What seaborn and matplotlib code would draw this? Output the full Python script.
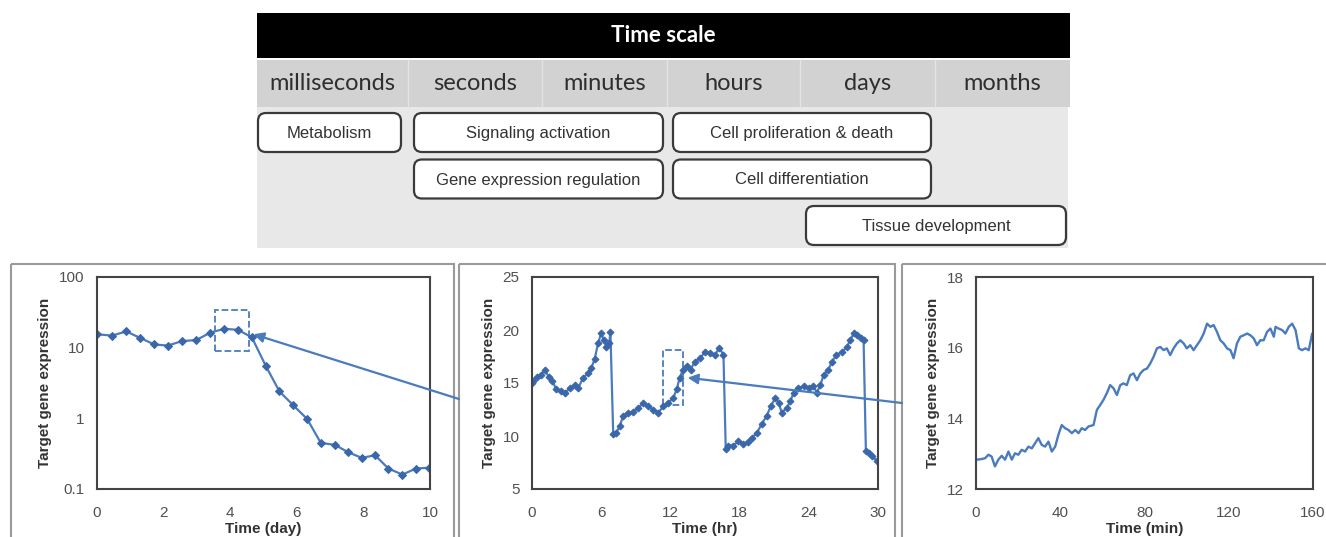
import numpy as np
import matplotlib
matplotlib.use("Agg")
import matplotlib.pyplot as plt
import seaborn as sns
from matplotlib.patches import Rectangle, FancyBboxPatch

# time scale table
time_units = ["milliseconds", "seconds", "minutes", "hours", "days", "months"]
processes = ["Metabolism", "Signaling activation", "Cell proliferation & death",
             "Gene expression regulation", "Cell differentiation", "Tissue development"]
proc_start = [0, 1, 3, 1, 3, 4]   # first column covered
proc_end = [0, 2, 4, 2, 4, 5]     # last column covered
proc_row = [0, 0, 0, 1, 1, 2]

# panel 1: days, log scale
day_x = [0, 0.45, 0.88, 1.3, 1.72, 2.13, 2.55, 2.98, 3.4, 3.82, 4.23, 4.65, 5.07,
         5.48, 5.9, 6.31, 6.72, 7.15, 7.55, 7.95, 8.35, 8.75, 9.17, 9.58, 9.98]
day_y = [15.5, 14.8, 17, 13.7, 11.1, 10.7, 12.4, 12.8, 16.3, 18.5, 17.9, 14.0, 5.5,
         2.4, 1.52, 0.98, 0.45, 0.42, 0.33, 0.276, 0.30, 0.195, 0.16, 0.195, 0.2]

# panel 2: hours
hr_x = [0, 0.1, 0.43, 0.8, 1.1, 1.45, 1.77, 2.1, 2.55, 2.9, 3.27, 3.7, 4.0, 4.43, 4.87,
        5.15, 5.44, 5.73, 6.0, 6.2, 6.45, 6.7, 6.8, 7.04, 7.3, 7.6, 7.9, 8.3, 8.8, 9.2,
        9.65, 10.1, 10.5, 10.95, 11.4, 11.8, 12.25, 12.55, 12.8, 13.1, 13.4, 13.75, 14.1,
        14.6, 15.0, 15.4, 15.85, 16.25, 16.6, 16.8, 17.0, 17.45, 17.9, 18.3, 18.7, 19.05,
        19.5, 19.9, 20.35, 20.7, 21.1, 21.4, 21.65, 22.1, 22.4, 22.7, 23.1, 23.55, 24.0,
        24.4, 24.7, 25.0, 25.3, 25.7, 26.0, 26.4, 26.9, 27.3, 27.6, 27.9, 28.2, 28.5,
        28.75, 28.95, 29.2, 29.5, 29.9]
hr_y = [15.0, 15.2, 15.6, 15.8, 16.2, 15.6, 15.2, 14.4, 14.2, 14.1, 14.5, 14.8, 14.5,
        15.5, 15.9, 16.4, 17.3, 18.75, 19.7, 19.1, 18.4, 18.75, 19.85, 10.2, 10.3, 10.9,
        11.9, 12.2, 12.3, 12.65, 13.1, 12.8, 12.5, 12.2, 12.8, 13.1, 13.6, 14.4, 15.5,
        16.25, 16.6, 16.25, 17.0, 17.35, 17.95, 17.8, 17.65, 18.3, 17.65, 8.75, 9.1, 9.1,
        9.5, 9.2, 9.4, 9.8, 10.3, 11.1, 11.9, 12.8, 13.6, 13.1, 12.2, 12.65, 13.3, 14.1,
        14.5, 14.7, 14.5, 14.7, 14.1, 14.8, 15.8, 16.25, 17.0, 17.65, 17.95, 18.4, 19.05,
        19.7, 19.5, 19.2, 19.05, 8.6, 8.4, 8.1, 7.65]

# panel 3: minutes
min_x = [0, 1.9, 4.3, 5.9, 7.4, 9.0, 10.6, 12.2, 13.8, 15.4, 17.0, 18.5, 20.1, 21.7,
         23.3, 24.9, 26.5, 28.1, 29.6, 31.2, 32.8, 34.4, 36.0, 37.6, 39.1, 40.7, 42.3,
         43.9, 45.5, 47.1, 48.7, 50.2, 51.8, 53.4, 55.8, 57.4, 59.0, 60.5, 62.1, 63.7,
         65.3, 66.9, 68.5, 70.0, 71.6, 73.2, 74.8, 76.4, 78.0, 79.6, 81.2, 82.7, 84.3,
         85.9, 87.5, 89.1, 90.6, 92.2, 93.8, 95.4, 97.0, 98.6, 100.1, 101.7, 103.3, 104.9,
         106.5, 108.1, 109.7, 111.3, 112.8, 114.4, 116.0, 117.6, 119.2, 120.8, 122.3,
         123.9, 125.5, 127.1, 128.7, 130.3, 131.9, 133.4, 135.0, 136.6, 138.2, 139.8,
         141.4, 142.2, 143.7, 145.3, 146.9, 148.5, 150.1, 151.7, 153.3, 154.8, 156.4,
         158.0, 159.6]
min_y = [12.83, 12.84, 12.87, 12.97, 12.92, 12.64, 12.83, 12.94, 12.83, 13.06, 12.83,
         13.01, 12.97, 13.11, 13.06, 13.2, 13.15, 13.3, 13.44, 13.25, 13.2, 13.34, 13.06,
         13.2, 13.53, 13.81, 13.72, 13.67, 13.58, 13.67, 13.58, 13.72, 13.67, 13.77,
         13.81, 14.24, 14.38, 14.52, 14.71, 14.94, 14.85, 14.66, 14.94, 14.99, 14.94,
         15.22, 15.27, 15.08, 15.27, 15.37, 15.41, 15.55, 15.74, 15.98, 16.02, 15.93,
         15.98, 15.79, 15.98, 16.12, 16.21, 16.12, 15.98, 16.07, 15.93, 16.07, 16.21,
         16.4, 16.68, 16.59, 16.64, 16.45, 16.21, 16.12, 15.98, 15.93, 15.7, 16.12, 16.31,
         16.35, 16.4, 16.35, 16.26, 16.07, 16.21, 16.21, 16.45, 16.54, 16.31, 16.59,
         16.54, 16.5, 16.4, 16.59, 16.68, 16.5, 15.98, 15.93, 15.98, 15.93, 16.4]

# zoom boxes (x0, x1, y0, y1) and arrow targets
box1 = [3.55, 4.57, 9, 34]
box2 = [11.4, 13.1, 12.9, 18.1]
arrow1_target = (4.7, 15.5)
arrow2_target = (13.5, 15.5)

sns.set_style("white")
plt.rcParams["font.family"] = ["Liberation Sans", "DejaVu Sans"]

blue = "#4a7bbd"
dark = "#3a66aa"
W, H = 1326, 537
fig = plt.figure(figsize=(W / 100, H / 100), dpi=100)

def px_axes(x0, x1, y0, y1):
    return fig.add_axes([x0 / W, 1 - y1 / H, (x1 - x0) / W, (y1 - y0) / H])

ax1 = px_axes(97, 430, 277, 489)
ax2 = px_axes(532, 878, 277, 489)
ax3 = px_axes(976, 1313, 277, 489)

sns.lineplot(x=day_x, y=day_y, ax=ax1, color=blue, lw=1.6, marker="D",
             markersize=4, markerfacecolor=dark, markeredgecolor=dark)
sns.lineplot(x=hr_x, y=hr_y, ax=ax2, color=blue, lw=1.6, marker="D",
             markersize=3.5, markerfacecolor=dark, markeredgecolor=dark)
sns.lineplot(x=min_x, y=min_y, ax=ax3, color=blue, lw=1.7)

ax1.set_yscale("log")
ax1.set_xlim(0, 10)
ax1.set_ylim(0.1, 100)
ax1.set_xticks([0, 2, 4, 6, 8, 10])
ax1.set_yticks([0.1, 1, 10, 100])
ax1.set_yticklabels(["0.1", "1", "10", "100"])
ax1.minorticks_off()
ax1.set_xlabel("Time (day)")

ax2.set_xlim(0, 30)
ax2.set_ylim(5, 25)
ax2.set_xticks([0, 6, 12, 18, 24, 30])
ax2.set_yticks([5, 10, 15, 20, 25])
ax2.set_xlabel("Time (hr)")

ax3.set_xlim(0, 160)
ax3.set_ylim(12, 18)
ax3.set_xticks([0, 40, 80, 120, 160])
ax3.set_yticks([12, 14, 16, 18])
ax3.set_xlabel("Time (min)")

for ax in (ax1, ax2, ax3):
    ax.set_ylabel("Target gene expression", fontsize=11, fontweight="bold",
                  color="#333333", labelpad=5)
    ax.xaxis.label.set_fontsize(11)
    ax.xaxis.label.set_fontweight("bold")
    ax.xaxis.label.set_color("#333333")
    ax.xaxis.labelpad = 2
    ax.tick_params(axis="x", pad=12)
    ax.tick_params(direction="in", length=4, width=1.2, labelsize=11,
                   colors="#505050")
    ax.tick_params(axis="y", pad=9)
    for s in ax.spines.values():
        s.set_color("#444444")
        s.set_linewidth(1.5)

ax1.add_patch(Rectangle((box1[0], box1[2]), box1[1] - box1[0], box1[3] - box1[2],
                        fill=False, ls="--", lw=1.3, ec=blue))
ax2.add_patch(Rectangle((box2[0], box2[2]), box2[1] - box2[0], box2[3] - box2[2],
                        fill=False, ls="--", lw=1.3, ec=blue))

# overlay in pixel coordinates for table, frames and arrows
ov = fig.add_axes([0, 0, 1, 1], zorder=10)
ov.set_xlim(0, W)
ov.set_ylim(H, 0)
ov.axis("off")
ov.patch.set_alpha(0)

col_edges = [257, 408, 542, 667, 800, 935, 1070]
ov.add_patch(Rectangle((257, 13), 813, 45, fc="black", ec="none"))
ov.text(663, 36, "Time scale", color="white", fontsize=16, fontweight="bold",
        family=["Lato", "DejaVu Sans"], ha="center", va="center")
ov.add_patch(Rectangle((257, 60), 813, 47, fc="#d2d2d2", ec="none"))
ov.add_patch(Rectangle((257, 107), 811, 141, fc="#e8e8e8", ec="none"))
for i, unit in enumerate(time_units):
    if i > 0:
        ov.plot([col_edges[i]] * 2, [60, 107], color="#e4e4e4", lw=1)
    ov.text((col_edges[i] + col_edges[i + 1]) / 2, 83, unit, fontsize=17,
            family=["Lato", "DejaVu Sans"], color="#2e2e2e", ha="center", va="center")
for name, s, e, r in zip(processes, proc_start, proc_end, proc_row):
    x0 = col_edges[s] + (1 if s == 0 else 6)
    x1 = col_edges[e + 1] - (7 if e == 0 else 4)
    y0 = 113 + r * 46.5
    ov.add_patch(FancyBboxPatch((x0, y0), x1 - x0, 39,
                                boxstyle="round,pad=0,rounding_size=8",
                                fc="white", ec="#3a3a3a", lw=1.6))
    ov.text((x0 + x1) / 2, y0 + 20.5, name, fontsize=12, color="#333333",
            ha="center", va="center")

# panel frames
for fx0, fx1 in [(11, 454), (459, 895), (902, 1340)]:
    ov.add_patch(Rectangle((fx0, 264), fx1 - fx0, 300, fill=False, ec="#9a9a9a", lw=1.5))

ov.annotate("", xy=arrow1_target, xycoords=ax1.transData, xytext=(459, 399),
            textcoords="data",
            arrowprops=dict(arrowstyle="-|>,head_length=0.6,head_width=0.3",
                            color=blue, lw=1.6, shrinkA=0, shrinkB=0))
ov.annotate("", xy=arrow2_target, xycoords=ax2.transData, xytext=(902, 403),
            textcoords="data",
            arrowprops=dict(arrowstyle="-|>,head_length=0.6,head_width=0.3",
                            color=blue, lw=1.6, shrinkA=0, shrinkB=0))

fig.savefig("out.png", dpi=100)
